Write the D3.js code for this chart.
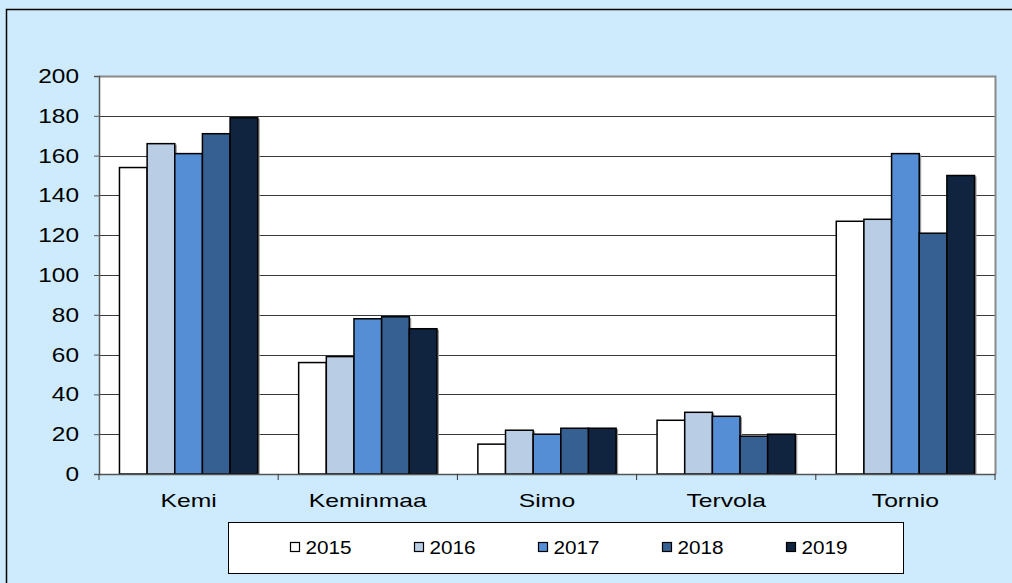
<!DOCTYPE html>
<html>
<head>
<meta charset="utf-8">
<script src="https://cdn.jsdelivr.net/npm/d3@7"></script>
<style>
  body { margin: 0; background: #cdebfd; }
  svg { display: block; font-family: "Liberation Sans", Arial, sans-serif; }
</style>
</head>
<body>
<div id="chart"></div>
<script>
const municipalities = ["Kemi", "Keminmaa", "Simo", "Tervola", "Tornio"];
const years = ["2015", "2016", "2017", "2018", "2019"];
const values2015 = [154, 56, 15, 27, 127];
const values2016 = [166, 59, 22, 31, 128];
const values2017 = [161, 78, 20, 29, 161];
const values2018 = [171, 79, 23, 19, 121];
const values2019 = [179, 73, 23, 20, 150];
const yTicks = [0, 20, 40, 60, 80, 100, 120, 140, 160, 180, 200];
const colors = ["#ffffff", "#b9cde5", "#558ed5", "#366092", "#10243f"];

const series = [values2015, values2016, values2017, values2018, values2019];

const width = 1012, height = 583;
const margin = { top: 76, right: 17, bottom: 109, left: 99 };
const innerW = width - margin.left - margin.right;
const innerH = height - margin.top - margin.bottom;

// the source text is drawn wider than normal, stretch it a bit
function stretch(sel, k) {
    sel.each(function () {
        const w = this.getComputedTextLength();
        d3.select(this)
            .attr("textLength", w * k)
            .attr("lengthAdjust", "spacingAndGlyphs");
    });
}

const svg = d3.select("#chart").append("svg")
    .attr("width", width)
    .attr("height", height);

// background + outer frame
svg.append("rect")
    .attr("width", width).attr("height", height)
    .attr("fill", "#cdebfd");
svg.append("path")
    .attr("d", `M6.5,${height} V9.5 H${width}`)
    .attr("fill", "none")
    .attr("stroke", "#000")
    .attr("stroke-width", 1.5);

const g = svg.append("g")
    .attr("transform", `translate(${margin.left},${margin.top})`);

const x0 = d3.scaleBand().domain(municipalities).range([0, innerW]).paddingInner(0).paddingOuter(0);
const x1 = d3.scaleBand().domain(years).range([0, x0.bandwidth()]).paddingOuter(0.74);
const y = d3.scaleLinear().domain([0, 200]).range([innerH, 0]);

// plot area
g.append("rect")
    .attr("x", 0).attr("y", 0)
    .attr("width", innerW).attr("height", innerH)
    .attr("fill", "#fff");

// gridlines
g.selectAll(".grid")
    .data(yTicks.filter(d => d > 0))
    .join("line")
    .attr("x1", 0).attr("x2", innerW)
    .attr("y1", d => Math.round(y(d)) + 0.5)
    .attr("y2", d => Math.round(y(d)) + 0.5)
    .attr("stroke", "#3a3a3a")
    .attr("stroke-width", 1);

// plot border top/right
g.append("path")
    .attr("d", `M0,0.5 H${innerW + 0.5} V${innerH}`)
    .attr("fill", "none")
    .attr("stroke", "#8a8a8a")
    .attr("stroke-width", 2);

// bars
const groups = g.selectAll(".grp")
    .data(municipalities)
    .join("g")
    .attr("transform", d => `translate(${x0(d)},0)`);

years.forEach((yr, i) => {
    groups.append("rect")
        .attr("x", (d, j) => x1(yr) + 2)
        .attr("y", (d, j) => y(series[i][j]) + 1)
        .attr("width", x1.bandwidth())
        .attr("height", (d, j) => innerH - y(series[i][j]) - 1)
        .attr("fill", "#9a9a9a");
    groups.append("rect")
        .attr("x", (d, j) => x1(yr))
        .attr("y", (d, j) => y(series[i][j]))
        .attr("width", x1.bandwidth())
        .attr("height", (d, j) => innerH - y(series[i][j]))
        .attr("fill", colors[i])
        .attr("stroke", "#000")
        .attr("stroke-width", 1.5);
});

// y axis
const yAxis = g.append("g")
    .call(d3.axisLeft(y).tickValues(yTicks).tickSize(5).tickPadding(15))
yAxis.select(".domain").attr("stroke", "#555").attr("stroke-width", 1.5);
yAxis.selectAll(".tick line").attr("stroke", "#555");
yAxis.selectAll("text")
    .attr("fill", "#000")
    .style("font-size", "20px")
    .call(stretch, 1.22);

// x axis
const xAxis = g.append("g")
    .attr("transform", `translate(0,${innerH})`)
    .call(d3.axisBottom(x0).tickSize(0).tickPadding(20));
xAxis.select(".domain").attr("stroke", "#555").attr("stroke-width", 1.5);
xAxis.selectAll("text")
    .attr("fill", "#000")
    .style("font-size", "19px")
    .call(stretch, 1.3);
xAxis.selectAll(".sep")
    .data(municipalities.concat(["end"]))
    .join("line")
    .attr("x1", (d, i) => i * x0.bandwidth())
    .attr("x2", (d, i) => i * x0.bandwidth())
    .attr("y1", 0).attr("y2", 6)
    .attr("stroke", "#333");

// legend
const legend = svg.append("g").attr("transform", "translate(228.5,522.5)");
legend.append("rect")
    .attr("width", 675).attr("height", 51)
    .attr("fill", "#fff")
    .attr("stroke", "#000")
    .attr("stroke-width", 1);

const item = legend.selectAll(".item")
    .data(years)
    .join("g")
    .attr("transform", (d, i) => `translate(${62 + i * 124},25)`);
item.append("rect")
    .attr("x", 0).attr("y", -5)
    .attr("width", 9).attr("height", 9)
    .attr("fill", (d, i) => colors[i])
    .attr("stroke", "#000")
    .attr("stroke-width", 1.2);
item.append("text")
    .attr("x", 15)
    .attr("y", 0)
    .attr("dy", "0.36em")
    .style("font-size", "18px")
    .text(d => d)
    .call(stretch, 1.15);
</script>
</body>
</html>
